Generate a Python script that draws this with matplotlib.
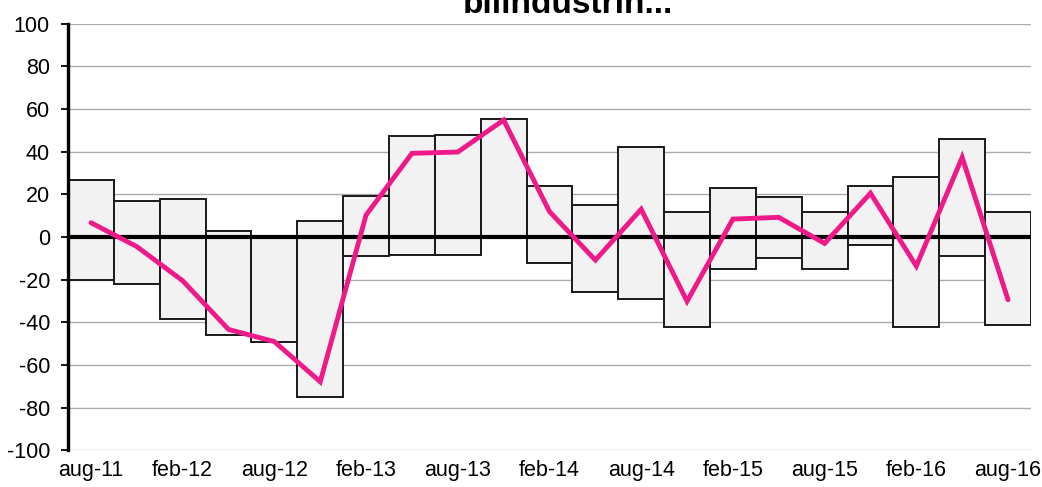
import matplotlib
matplotlib.use('Agg')
import matplotlib.pyplot as plt
import numpy as np

plt.rcParams['font.family'] = ['Liberation Sans', 'DejaVu Sans']
plt.rcParams['axes.unicode_minus'] = False

# quarterly periods aug-11 .. aug-16
periods = ['aug-11', 'nov-11', 'feb-12', 'maj-12', 'aug-12', 'nov-12', 'feb-13', 'maj-13',
           'aug-13', 'nov-13', 'feb-14', 'maj-14', 'aug-14', 'nov-14', 'feb-15', 'maj-15',
           'aug-15', 'nov-15', 'feb-16', 'maj-16', 'aug-16']
highs = [26.6, 16.7, 17.8, 2.7, 0.0, 7.6, 19.0, 47.3, 47.9, 55.3, 23.7,
         14.8, 42.0, 11.9, 23.0, 18.9, 11.9, 23.9, 28.0, 46.0, 11.9]
lows = [-20.0, -21.9, -38.6, -46.0, -49.0, -75.0, -9.1, -8.3, -8.3, 0.0, -12.2,
        -25.6, -29.0, -42.0, -15.0, -10.0, -15.0, -3.9, -42.0, -8.8, -41.0]
net = [6.7, -4.5, -20.5, -43.3, -49.0, -67.8, 10.3, 39.2, 39.8, 54.8, 11.9,
       -10.8, 13.0, -30.1, 8.4, 9.2, -3.0, 20.5, -13.6, 37.3, -29.4]
title = 'bilindustrin...'

x = np.arange(len(periods))
fig = plt.figure(figsize=(10.42, 4.87), dpi=100)
ax = fig.add_axes([0.0653, 0.075, 0.9241, 0.8767])

heights = np.array(highs) - np.array(lows)
ax.bar(x, heights, bottom=lows, width=1.0, color='#f2f2f2', edgecolor='#1a1a1a',
       linewidth=1.4, zorder=2)
ax.axhline(0, color='black', linewidth=3.0, zorder=3)
ax.plot(x, net, color='#ee1a8a', linewidth=3.5, solid_capstyle='round',
        solid_joinstyle='miter', zorder=4)

ax.set_xlim(-0.5, len(periods) - 0.5)
ax.set_ylim(-100, 100)
ax.set_yticks(np.arange(-100, 101, 20))
ax.set_xticks(x[::2])
ax.set_xticklabels(periods[::2])
ax.yaxis.grid(True, color='#ababab', linewidth=1.0, zorder=0)
ax.set_axisbelow(True)

for side in ['top', 'right', 'bottom']:
    ax.spines[side].set_visible(False)
ax.spines['left'].set_linewidth(2.4)
ax.spines['left'].set_zorder(5)
ax.tick_params(axis='y', length=5, width=1.3, labelsize=15.5, pad=8)
ax.tick_params(axis='x', length=0, labelsize=15.5, pad=7)

fig.text(568 / 1042, 1 - 13 / 487, title, ha='center', va='baseline',
         fontsize=24, fontweight='bold')

fig.savefig('out.png', dpi=100)
